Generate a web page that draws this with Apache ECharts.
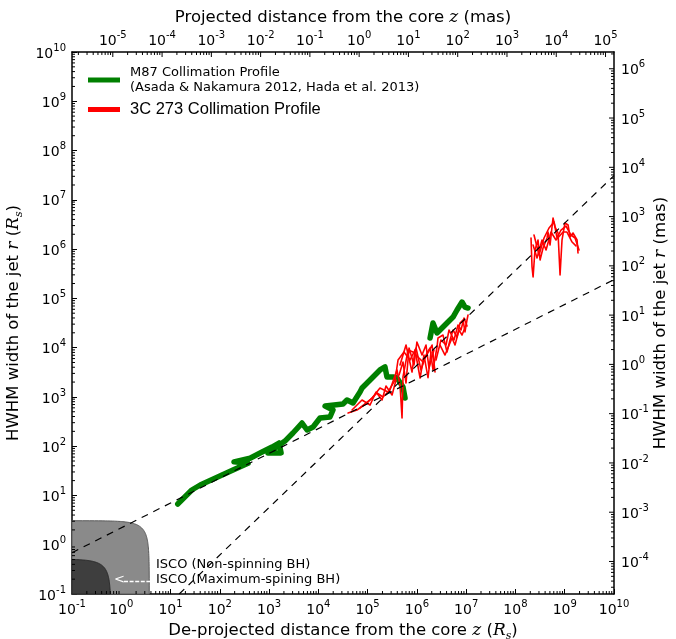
<!DOCTYPE html>
<html><head><meta charset="utf-8">
<script src="https://cdn.jsdelivr.net/npm/echarts@6/dist/echarts.min.js"></script>
<style>html,body{margin:0;padding:0;background:#fff}#c{width:676px;height:639px}</style>
</head><body><div id="c"></div>
<script>
// ---------------- data (z in Rs, r in Rs) ----------------
const M87_NAME = 'M87 Collimation Profile\n(Asada & Nakamura 2012, Hada et al. 2013)';
const C273_NAME = '3C 273 Collimation Profile';

const m87Seg1 = [[14,6.7],[27,12.9],[40,16.3],[185,33],[373,45],[194,48],[410,57],[720,76],[1150,96],[1590,116],[1750,73],[950,73],[2100,127],[3050,185],[4660,295],[5900,213],[7800,245],[1.08e4,373],[1.72e4,391],[1.98e4,542],[1.37e4,653],[3.16e4,718],[3.81e4,865],[5.05e4,752],[7.0e4,1256],[7.7e4,1514],[1.12e5,2200],[1.78e5,3520],[2.25e5,4050],[2.47e5,2540],[3.27e5,2540],[3.95e5,2420],[5.22e5,1590],[5.74e5,948]];
const m87Seg2 = [[1.85e6,1.57e4],[2.12e6,3.16e4],[2.56e6,1.98e4],[4.08e6,3.16e4],[5.41e6,4.18e4],[6.52e6,5.81e4],[8.24e6,8.43e4],[9.46e6,6.67e4],[1.09e7,6.37e4]];

const c273A1 = [[4.0e4,471],[6.08e4,542],[9.7e4,752],[1.55e5,1200],[2.05e5,995],[2.84e5,1380],[3.94e5,3520],[4.54e5,1740],[4.99e5,373],[5.22e5,2540],[6.61e5,8950],[8.34e5,8150],[1.05e6,6460],[1.33e6,5100],[1.6e6,7780],[1.85e6,9820],[2.12e6,3520],[2.56e6,1.03e4],[2.68e6,1.57e4],[3.39e6,1.8e4],[4.08e6,8150],[4.7e6,1.43e4],[5.41e6,2.28e4],[6.52e6,1.64e4],[7.5e6,3.16e4],[8.63e6,3.64e4],[9.46e6,2.08e4],[1.04e7,3.64e4],[1.09e7,4.59e4]];
const c273A2 = [[7.0e4,596],[1.23e5,948],[1.78e5,1510],[2.59e5,1260],[3.6e5,2200],[4.14e5,5610],[5.47e5,8150],[7.24e5,5610],[9.6e5,9820],[1.21e6,3520],[1.46e6,6150],[2.03e6,1.13e4],[2.33e6,3200]];
const c273A3 = [[2.94e6,1.13e4],[3.72e6,7080],[5.16e6,1.57e4],[5.93e6,1.13e4],[7.16e6,2.28e4],[8.24e6,1.8e4],[9.93e6,2.88e4]];
const c273A4 = [[4.54e5,4440],[6.01e5,1.13e4],[7.96e5,3200],[9.16e5,8950],[1.16e6,2420],[1.39e6,7080],[1.68e6,2450],[1.93e6,8150]];
const c273A5 = [[4.82e4,542],[7.69e4,865],[1.12e5,684],[1.48e5,1256],[1.96e5,865],[2.36e5,1663],[3.13e5,1092],[3.77e5,2203]];
const c273A6 = [[4.34e5,2780],[5.22e5,5100],[6.01e5,1914],[6.92e5,9820],[8.73e5,4440],[1.0e6,1.3e4],[1.27e6,7080],[1.53e6,1.13e4],[1.76e6,3855],[2.22e6,8950]];
const c273A7 = [[2.44e6,5610],[3.08e6,1.43e4],[3.9e6,1.13e4],[4.49e6,2.28e4],[5.66e6,1.43e4],[6.82e6,2.88e4],[7.85e6,2.28e4],[9.04e6,3.99e4],[1.04e7,2.75e4]];
const c273B1 = [[2.07e8,1.68e6],[2.17e8,4.33e5],[2.28e8,2.71e5],[2.49e8,9.57e5],[2.87e8,1.53e6],[3.16e8,6.0e5],[3.63e8,1.05e6],[4.38e8,1.68e6],[4.58e8,2.22e6],[5.04e8,1.21e6],[5.52e8,2.81e6],[5.79e8,4.28e6],[6.35e8,2.81e6],[7.31e8,2.12e6],[8.04e8,2.98e5],[8.81e8,1.53e6],[1.01e9,3.38e6],[1.17e9,3.08e6],[1.28e9,1.76e6],[1.47e9,2.12e6],[1.78e9,1.53e6],[1.86e9,8.32e5]];
const c273B2 = [[2.28e8,1.21e6],[2.74e8,6.59e5],[3.46e8,1.53e6],[4.18e8,9.57e5],[5.27e8,2.22e6],[6.65e8,1.53e6],[9.25e8,2.22e6],[1.11e9,2.22e6],[1.41e9,1.39e6],[1.69e9,1.16e6]];
const c273B3 = [[2.38e8,1.93e6],[3.01e8,7.59e5],[3.8e8,1.68e6],[4.8e8,2.68e6],[6.07e8,3.55e6],[6.98e8,1.68e6],[8.41e8,2.44e6],[1.06e9,2.94e6],[1.34e9,1.93e6],[1.62e9,1.68e6],[1.95e9,9.57e5]];

const parabolicFit = [[0.1,0.69],[1e10,2.4e5]];
const conicalFit = [[15,0.1],[1e10,3.1e7]];

// ISCO regions: [z extent, r extent] in Rs
const iscoNonSpin = [3.7, 3.07];
const iscoMaxSpin = [0.61, 0.51];

// axes
const X_MIN = 0.1, X_MAX = 1e10, Y_MIN = 0.1, Y_MAX = 1e10;
const RS_PER_MAS_TOP = 67300;   // de-projected Rs per projected mas
const RS_PER_MAS_RIGHT = 4570;  // Rs per mas (width)
const topTickExponents = [-5,-4,-3,-2,-1,0,1,2,3,4,5];
const rightTickExponents = [-4,-3,-2,-1,0,1,2,3,4,5,6];

// ---------------- helpers ----------------
const FONT = 'DejaVu Sans';
const TICK_RICH = {
  b: {fontSize: 14, fontFamily: FONT, color: '#000', lineHeight: 18, verticalAlign: 'bottom'},
  s: {fontSize: 10, fontFamily: FONT, color: '#000', lineHeight: 18, verticalAlign: 'top'}
};
function supText(k) { return '{b|10}{s|' + (k < 0 ? '-' + (-k) : String(k)) + '}'; }
function logLabel(v) {
  const e = Math.log10(v); const k = Math.round(e);
  if (Math.abs(e - k) > 1e-6) return '';
  return supText(k);
}
const NAME_RICH = {
  n: {fontSize: 16.5, fontFamily: FONT, color: '#000', lineHeight: 22},
  i: {fontSize: 17, fontFamily: 'DejaVu Serif', fontStyle: 'italic', color: '#000', lineHeight: 22},
  sub: {fontSize: 11, fontFamily: 'DejaVu Serif', fontStyle: 'italic', color: '#000', lineHeight: 22, verticalAlign: 'bottom'}
};

// axis decorations (minor ticks, top/right ticks and labels)
const decor = [];
for (let e = -1; e < 10; e++) for (let m = 2; m <= 9; m++) {
  decor.push([m * Math.pow(10, e), 1, 0, 0]);
  decor.push([1, m * Math.pow(10, e), 1, 0]);
}
topTickExponents.forEach(k => { decor.push([Math.pow(10, k) * RS_PER_MAS_TOP, 1, 2, k]); decor.push([Math.pow(10, k) * RS_PER_MAS_TOP, 1, 6, k]); });
for (let e = -6; e <= 5; e++) for (let m = 2; m <= 9; m++) {
  const v = m * Math.pow(10, e) * RS_PER_MAS_TOP;
  if (v > X_MIN && v < X_MAX) decor.push([v, 1, 3, 0]);
}
rightTickExponents.forEach(k => { decor.push([1, Math.pow(10, k) * RS_PER_MAS_RIGHT, 4, k]); decor.push([1, Math.pow(10, k) * RS_PER_MAS_RIGHT, 7, k]); });
for (let e = -5; e <= 6; e++) for (let m = 2; m <= 9; m++) {
  const v = m * Math.pow(10, e) * RS_PER_MAS_RIGHT;
  if (v > Y_MIN && v < Y_MAX) decor.push([1, v, 5, 0]);
}

function renderDecor(params, api) {
  const cs = params.coordSys;
  const code = api.value(2);
  const p = api.coord([api.value(0), api.value(1)]);
  const L = cs.x, R = cs.x + cs.width, T = cs.y, B = cs.y + cs.height;
  const st = {stroke: '#000', lineWidth: 1};
  switch (code) {
    case 0: return {type: 'line', shape: {x1: p[0], y1: B, x2: p[0], y2: B - 3}, style: st};
    case 1: return {type: 'line', shape: {x1: L, y1: p[1], x2: L + 3, y2: p[1]}, style: st};
    case 2: return {type: 'line', shape: {x1: p[0], y1: T, x2: p[0], y2: T + 5}, style: st};
    case 3: return {type: 'line', shape: {x1: p[0], y1: T, x2: p[0], y2: T + 3}, style: st};
    case 4: return {type: 'line', shape: {x1: R, y1: p[1], x2: R - 5, y2: p[1]}, style: st};
    case 5: return {type: 'line', shape: {x1: R, y1: p[1], x2: R - 3, y2: p[1]}, style: st};
    case 6: return {type: 'text', x: p[0], y: T - 4, style: {text: supText(api.value(3)), rich: TICK_RICH, align: 'center', verticalAlign: 'bottom'}};
    case 7: return {type: 'text', x: R + 7, y: p[1], style: {text: supText(api.value(3)), rich: TICK_RICH, align: 'left', verticalAlign: 'middle'}};
  }
  return null;
}

function renderIsco(params, api) {
  const a = api.value(0), b = api.value(1), idx = api.value(2);
  const pts = [api.coord([X_MIN, Y_MIN])];
  const t1 = Math.acos(Math.min(1, X_MIN / a));
  const t0 = Math.asin(Math.min(1, Y_MIN / b));
  const N = 90;
  for (let i = 0; i <= N; i++) {
    const t = t1 + (t0 - t1) * i / N;
    pts.push(api.coord([a * Math.cos(t), b * Math.sin(t)]));
  }
  return {type: 'polygon', shape: {points: pts},
    style: {fill: idx === 0 ? '#8a8a8a' : '#3e3e3e', stroke: idx === 0 ? '#5a5a5a' : '#2a2a2a', lineWidth: 1}};
}

function dataLine(name, data, color, width, z) {
  return {type: 'line', name: name, data: data, showSymbol: false, symbol: 'none', silent: true, z: z,
    itemStyle: {color: color}, lineStyle: {color: color, width: width, join: 'round', cap: 'round'}};
}
function fitLine(data) {
  return {type: 'line', data: data, showSymbol: false, symbol: 'none', silent: true, z: 5,
    lineStyle: {color: '#000', width: 1.2, type: [7, 6]}};
}

const axisLineStyle = {show: true, lineStyle: {color: '#000', width: 1.5}};

const option = {
  animation: false,
  backgroundColor: '#fff',
  grid: {left: 72, top: 52, width: 542, height: 542, containLabel: false, outerBoundsMode: 'none'},
  legend: {
    left: 83, top: 60, orient: 'vertical', itemWidth: 32, itemHeight: 5, itemGap: 6,
    selectedMode: false,
    data: [
      {name: M87_NAME, icon: 'rect', textStyle: {fontFamily: FONT, fontSize: 13, lineHeight: 15, color: '#000', padding: [0, 0, 0, 5]}},
      {name: C273_NAME, icon: 'rect', textStyle: {fontFamily: 'Liberation Sans', fontSize: 16.5, color: '#000', padding: [0, 0, 0, 5]}}
    ]
  },
  xAxis: [
    {type: 'log', min: X_MIN, max: X_MAX, interval: 1, position: 'bottom', gridIndex: 0,
      axisLine: axisLineStyle, splitLine: {show: false},
      axisTick: {show: true, inside: true, length: 5, lineStyle: {color: '#000', width: 1}},
      axisLabel: {margin: 5, formatter: logLabel, rich: TICK_RICH},
      name: '{n|De-projected distance from the core }{i|z}{n| (}{i|R}{sub|s}{n|)}',
      nameLocation: 'middle', nameGap: 23, nameTextStyle: {rich: NAME_RICH}},
    {type: 'log', min: X_MIN / RS_PER_MAS_TOP, max: X_MAX / RS_PER_MAS_TOP, position: 'top', gridIndex: 0,
      axisLine: axisLineStyle, splitLine: {show: false}, axisTick: {show: false}, axisLabel: {show: false},
      name: '{n|Projected distance from the core }{i|z}{n| (mas)}',
      nameLocation: 'middle', nameGap: 23, nameTextStyle: {rich: NAME_RICH}}
  ],
  yAxis: [
    {type: 'log', min: Y_MIN, max: Y_MAX, interval: 1, position: 'left', gridIndex: 0,
      axisLine: axisLineStyle, splitLine: {show: false},
      axisTick: {show: true, inside: true, length: 5, lineStyle: {color: '#000', width: 1}},
      axisLabel: {margin: 6, formatter: logLabel, rich: TICK_RICH},
      name: '{n|HWHM width of the jet }{i|r}{n| (}{i|R}{sub|s}{n|)}',
      nameLocation: 'middle', nameGap: 39, nameTextStyle: {rich: NAME_RICH}},
    {type: 'log', min: Y_MIN / RS_PER_MAS_RIGHT, max: Y_MAX / RS_PER_MAS_RIGHT, position: 'right', gridIndex: 0,
      axisLine: axisLineStyle, splitLine: {show: false}, axisTick: {show: false}, axisLabel: {show: false},
      name: '{n|HWHM width of the jet }{i|r}{n| (mas)}',
      nameLocation: 'middle', nameGap: 36, nameTextStyle: {rich: NAME_RICH}}
  ],
  series: [
    {type: 'custom', renderItem: renderIsco, silent: true, z: 1,
      data: [[iscoNonSpin[0], iscoNonSpin[1], 0], [iscoMaxSpin[0], iscoMaxSpin[1], 1]]},
    dataLine(M87_NAME, m87Seg1, '#008000', 5.5, 3),
    dataLine(M87_NAME, m87Seg2, '#008000', 5.5, 3),
    dataLine(C273_NAME, c273A1, '#ff0000', 1.6, 4),
    dataLine(C273_NAME, c273A2, '#ff0000', 1.6, 4),
    dataLine(C273_NAME, c273A3, '#ff0000', 1.6, 4),
    dataLine(C273_NAME, c273A4, '#ff0000', 1.6, 4),
    dataLine(C273_NAME, c273A5, '#ff0000', 1.6, 4),
    dataLine(C273_NAME, c273A6, '#ff0000', 1.6, 4),
    dataLine(C273_NAME, c273A7, '#ff0000', 1.6, 4),
    dataLine(C273_NAME, c273B1, '#ff0000', 1.6, 4),
    dataLine(C273_NAME, c273B2, '#ff0000', 1.6, 4),
    dataLine(C273_NAME, c273B3, '#ff0000', 1.6, 4),
    fitLine(parabolicFit),
    fitLine(conicalFit),
    {type: 'custom', renderItem: renderDecor, silent: true, z: 6, clip: false, data: decor}
  ],
  graphic: [
    {type: 'text', z: 100, left: 156, top: 558.5, style: {text: 'ISCO (Non-spinning BH)', font: '13px "DejaVu Sans"', fill: '#000'}},
    {type: 'text', z: 100, left: 156, top: 573.5, style: {text: 'ISCO (Maximum-spining BH)', font: '13px "DejaVu Sans"', fill: '#000'}},
    {type: 'text', z: 100, left: 114, top: 573.5, style: {text: '<', font: '13px "DejaVu Sans"', fill: '#fff'}},
    {type: 'line', z: 100, shape: {x1: 124, y1: 581.5, x2: 152, y2: 581.5}, style: {stroke: '#fff', lineWidth: 1.5, lineDash: [4, 1.6]}}
  ]
};

const chart = echarts.init(document.getElementById('c'));
chart.setOption(option);
</script></body></html>
